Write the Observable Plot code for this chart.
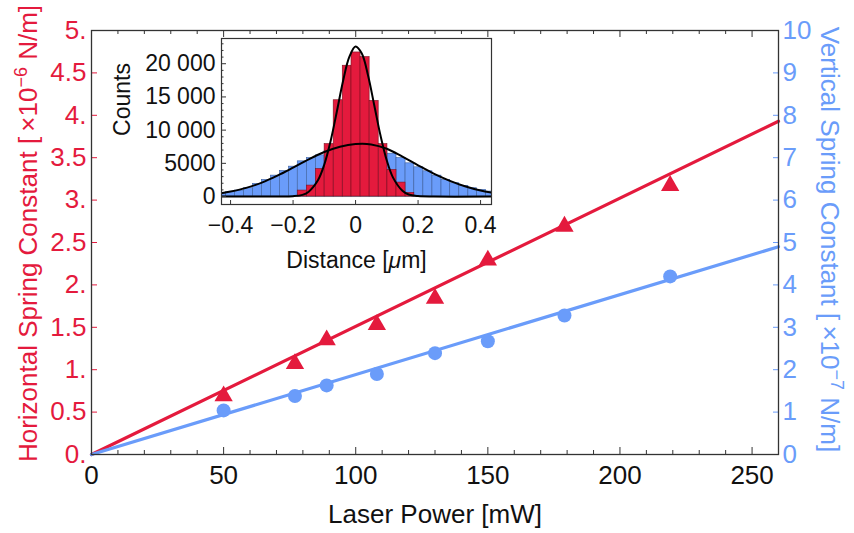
<!DOCTYPE html>
<html><head><meta charset="utf-8">
<script src="https://cdn.jsdelivr.net/npm/d3@7"></script>
<script src="https://cdn.jsdelivr.net/npm/@observablehq/plot@0.6"></script>
<style>
body{margin:0;background:#fff;}
#wrap{position:relative;width:854px;height:533px;background:#fff;}
#wrap svg{position:absolute;left:0;top:0;overflow:visible;}
</style></head><body><div id="wrap"></div>
<script>
const RED = "#E41A3D", BLUE = "#6A9CFA";
const FONT = "Liberation Sans, Arial, Helvetica, sans-serif";

// ---- main chart data ----
const power = [50, 77, 89, 108, 130, 150, 179, 219];           // mW
const horizontalK = [0.69, 1.07, 1.35, 1.53, 1.84, 2.29, 2.69, 3.17]; // ×10^-6 N/m
const verticalK = [1.04, 1.38, 1.63, 1.90, 2.39, 2.67, 3.28, 4.20];   // ×10^-7 N/m
const fitPower = [0, 260];
const horizontalFit = [0, 3.93];
const verticalFit = [0, 4.9];
const xTicks = [0, 50, 100, 150, 200, 250];
const xMinorTicks = [10, 20, 30, 40, 60, 70, 80, 90, 110, 120, 130, 140, 160, 170, 180, 190, 210, 220, 230, 240, 260];
const leftTicks = [0, 0.5, 1, 1.5, 2, 2.5, 3, 3.5, 4, 4.5, 5];
const leftTickLabels = ["0.", "0.5", "1.", "1.5", "2.", "2.5", "3.", "3.5", "4.", "4.5", "5."];
const rightTicks = [0, 1, 2, 3, 4, 5, 6, 7, 8, 9, 10];
const leftMax = 5, rightMax = 10;
const RATIO = rightMax / leftMax;

// ---- inset histogram data ----
const binEdges = [-0.443, -0.414, -0.386, -0.357, -0.328, -0.300, -0.271, -0.242, -0.213, -0.185, -0.156,
  -0.127, -0.099, -0.070, -0.041, -0.013, 0.016, 0.045, 0.074, 0.102, 0.131, 0.160, 0.188, 0.217,
  0.246, 0.275, 0.303, 0.332, 0.361, 0.389, 0.418, 0.447];
const blueCounts = [450, 650, 900, 1250, 1900, 2500, 3150, 3850, 4500, 5300, 5800, 6200, 6900, 7400, 7700,
  7800, 7700, 7400, 6900, 6450, 5800, 5000, 4400, 3800, 3150, 2500, 2000, 1600, 1250, 1000, 750];
const redCounts = [0, 0, 0, 0, 0, 0, 0, 0, 0, 900, 1650, 4150, 7900, 14500, 19700,
  21700, 21000, 14400, 7900, 4000, 2100, 550, 0, 0, 0, 0, 0, 0, 0, 0, 0];
const redFitX = [-0.429, -0.25, -0.2, -0.17, -0.15, -0.12, -0.1, -0.08, -0.06, -0.04, -0.02, 0,
  0.02, 0.04, 0.06, 0.08, 0.1, 0.12, 0.15, 0.17, 0.2, 0.25, 0.435];
const redFitY = [0, 0, 50, 250, 730, 2480, 4820, 8320, 12770, 17400, 21030, 22600,
  21540, 18230, 13710, 9150, 5425, 2850, 870, 300, 70, 0, 0];
const blueFitX = [-0.43, -0.4, -0.35, -0.3, -0.25, -0.2, -0.15, -0.1, -0.05, 0, 0.05, 0.1, 0.15, 0.2,
  0.25, 0.3, 0.35, 0.4, 0.435];
const blueFitY = [500, 750, 1300, 2100, 3150, 4350, 5600, 6700, 7500, 7900, 7850, 7200, 6000, 4700,
  3450, 2400, 1550, 900, 600];
const insetXTicks = [-0.4, -0.2, 0, 0.2, 0.4];
const insetXTickLabels = ["\u22120.4", "\u22120.2", "0", "0.2", "0.4"];
const insetYTicks = [0, 5000, 10000, 15000, 20000];
const insetYTickLabels = ["0", "5000", "10 000", "15 000", "20 000"];
const insetYMinorTicks = [1000, 2000, 3000, 4000, 6000, 7000, 8000, 9000, 11000, 12000, 13000, 14000,
  16000, 17000, 18000, 19000, 21000, 22000, 23000];

// ---- tables ----
const points = power.map((p, i) => ({p, h: horizontalK[i], v: verticalK[i]}));
const fits = fitPower.map((p, i) => ({p, h: horizontalFit[i], v: verticalFit[i]}));
const bins = blueCounts.map((c, i) => ({x1: binEdges[i], x2: binEdges[i + 1], blue: c, red: redCounts[i]}));
const redCurve = redFitX.map((x, i) => ({x, y: redFitY[i]}));
const blueCurve = blueFitX.map((x, i) => ({x, y: blueFitY[i]}));

// main frame geometry
const W = 854, H = 533;
const mL = 91, mR = 76, mT = 30, mB = 79;
const fH = H - mT - mB, fW = W - mL - mR;
const FRAME = "#333";

const main = Plot.plot({
  width: W, height: H,
  marginLeft: mL, marginRight: mR, marginTop: mT, marginBottom: mB,
  x: {domain: [0, 260], label: null},
  y: {domain: [0, leftMax], label: null},
  style: {fontFamily: FONT, background: "transparent", overflow: "visible"},
  marks: [
    Plot.line(fits, {x: "p", y: "h", stroke: RED, strokeWidth: 3.2}),
    Plot.line(fits, {x: "p", y: d => d.v / RATIO, stroke: BLUE, strokeWidth: 3.2}),
    Plot.dot(points, {x: "p", y: "h", symbol: "triangle", fill: RED, r: 6.8}),
    Plot.dot(points, {x: "p", y: d => d.v / RATIO, symbol: "circle", fill: BLUE, r: 7}),
    // inward ticks
    Plot.ruleX(xTicks, {x: d => d, insetTop: fH - 7, stroke: FRAME, strokeWidth: 1}),
    Plot.ruleX(xMinorTicks, {x: d => d, insetTop: fH - 4, stroke: FRAME, strokeWidth: 1}),
    Plot.ruleX(xTicks, {x: d => d, insetBottom: fH - 7, stroke: FRAME, strokeWidth: 1}),
    Plot.ruleX(xMinorTicks, {x: d => d, insetBottom: fH - 4, stroke: FRAME, strokeWidth: 1}),
    Plot.ruleY(leftTicks, {y: d => d, insetRight: fW - 6, stroke: RED, strokeWidth: 1}),
    Plot.ruleY(rightTicks.map(d => d / RATIO), {y: d => d, insetLeft: fW - 5, stroke: BLUE, strokeWidth: 1}),
    Plot.frame({stroke: FRAME, strokeWidth: 1.3}),
    Plot.axisX(xTicks, {tickSize: 0, tickPadding: 11, fontSize: 26, fill: "#111", label: null}),
    Plot.axisY(leftTicks, {anchor: "left", tickSize: 0, tickPadding: 5, fontSize: 26, fill: RED, label: null,
      tickFormat: d => leftTickLabels[leftTicks.indexOf(d)]}),
    Plot.axisY(rightTicks.map(d => d / RATIO), {anchor: "right", tickSize: 0, tickPadding: 4, fontSize: 26, fill: BLUE, label: null,
      tickFormat: d => String(Math.round(d * RATIO))}),
    Plot.text(["Laser Power [mW]"], {frameAnchor: "bottom", lineAnchor: "bottom", textAnchor: "middle", dy: 68, fontSize: 26, fill: "#111"}),
    Plot.text(["Horizontal Spring Constant [\u2009×10^\u22126 N/m]"], {frameAnchor: "left", lineAnchor: "bottom", textAnchor: "middle", rotate: -90,
      dx: -55, dy: -9, fontSize: 26, fill: RED}),
    Plot.text(["Vertical Spring Constant [\u2009×10^\u22127 N/m]"], {frameAnchor: "right", lineAnchor: "bottom", textAnchor: "middle", rotate: 90,
      dx: 42, dy: -3, fontSize: 26, fill: BLUE})
  ]
});

// inset geometry
const iL = 221, iR = 491, iT = 38, iB = 204;
const ifH = iB - iT, ifW = iR - iL;
const inset = Plot.plot({
  width: W, height: H,
  marginLeft: iL, marginRight: W - iR, marginTop: iT, marginBottom: H - iB,
  x: {domain: [-0.429, 0.435], label: null},
  y: {domain: [-1200, 23800], label: null},
  style: {fontFamily: FONT, background: "transparent", overflow: "visible"},
  marks: [
    Plot.frame({fill: "white", stroke: null}),
    Plot.ruleY([0], {stroke: "#999", strokeWidth: 1}),
    Plot.rect(bins, {x1: "x1", x2: "x2", y1: 0, y2: "blue", fill: BLUE, stroke: "#3d5f9c", strokeWidth: 0.6, clip: true}),
    Plot.rect(bins.filter(d => d.red > 0), {x1: "x1", x2: "x2", y1: 0, y2: "red", fill: RED, stroke: "#7d1020", strokeWidth: 0.6, clip: true}),
    Plot.line(blueCurve, {x: "x", y: "y", curve: "catmull-rom", stroke: "#000", strokeWidth: 2, clip: true}),
    Plot.line(redCurve, {x: "x", y: "y", curve: "catmull-rom", stroke: "#000", strokeWidth: 2, clip: true}),
    Plot.ruleY(insetYTicks, {y: d => d, insetRight: ifW - 5, stroke: FRAME, strokeWidth: 1}),
    Plot.ruleY(insetYMinorTicks, {y: d => d, insetRight: ifW - 2.5, stroke: FRAME, strokeWidth: 1}),
    Plot.ruleX(insetXTicks, {x: d => d, insetTop: ifH - 4, stroke: FRAME, strokeWidth: 1}),
    Plot.frame({stroke: FRAME, strokeWidth: 1.2}),
    Plot.axisX(insetXTicks, {tickSize: 0, tickPadding: 12, fontSize: 23, fill: "#111", label: null,
      tickFormat: d => insetXTickLabels[insetXTicks.indexOf(d)]}),
    Plot.axisY(insetYTicks, {anchor: "left", tickSize: 0, tickPadding: 6, fontSize: 23, fill: "#111", label: null,
      tickFormat: d => insetYTickLabels[insetYTicks.indexOf(d)]}),
    Plot.text(["Counts"], {frameAnchor: "left", lineAnchor: "bottom", textAnchor: "middle", rotate: -90, dx: -92, dy: -22, fontSize: 23, fill: "#111"}),
    Plot.text(["Distance [\u03bcm]"], {frameAnchor: "bottom", lineAnchor: "bottom", textAnchor: "middle", dy: 63, fontSize: 23, fill: "#111"})
  ]
});

const wrap = document.getElementById("wrap");
wrap.appendChild(main);
wrap.appendChild(inset);

// rich text: superscripts and italic mu
const NS = "http://www.w3.org/2000/svg";
function tspan(txt, attrs) {
  const t = document.createElementNS(NS, "tspan");
  t.textContent = txt;
  for (const k in attrs) t.setAttribute(k, attrs[k]);
  return t;
}
for (const svg of [main, inset]) {
  svg.querySelectorAll("text").forEach(t => {
    const s = t.textContent;
    if (s.includes("^")) {
      const m = s.match(/^(.*)\^(\S+)(.*)$/);
      const target = t.querySelector("tspan") || t;
      target.textContent = "";
      target.appendChild(document.createTextNode(m[1]));
      target.appendChild(tspan(m[2], {dy: "-10", "font-size": "18"}));
      target.appendChild(tspan(m[3], {dy: "10"}));
    } else if (s.includes("\u03bc")) {
      const [a, b] = s.split("\u03bc");
      const target = t.querySelector("tspan") || t;
      target.textContent = "";
      target.appendChild(document.createTextNode(a));
      target.appendChild(tspan("\u03bc", {"font-style": "italic"}));
      target.appendChild(document.createTextNode(b));
    }
  });
}
</script></body></html>
